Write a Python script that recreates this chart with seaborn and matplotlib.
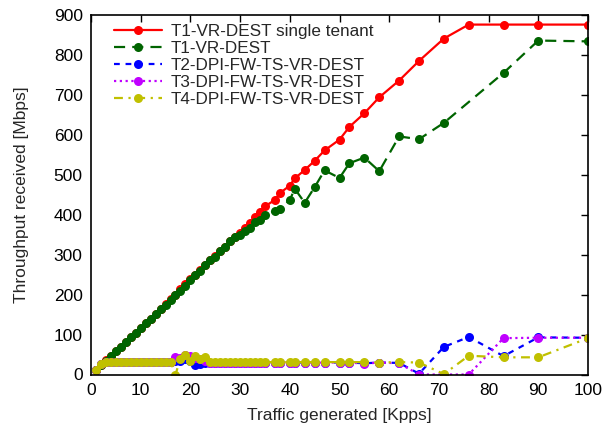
import matplotlib
matplotlib.use("Agg")
import matplotlib.pyplot as plt
import seaborn as sns
import pandas as pd

# Offered load (Kpps) for the single-tenant run and the shared runs
x_single = [1, 2, 3, 4, 5, 6, 7, 8, 9, 10, 11, 12, 13, 14, 15, 16, 17, 18, 19, 20,
            21, 22, 23, 24, 25, 26, 27, 28, 29, 30, 31, 32, 33, 34, 35,
            37, 38, 40, 41, 43, 45, 47, 50, 52, 55, 58, 62, 66, 71, 76, 83, 90, 100]
x_t1 = [1, 2, 3, 4, 5, 6, 7, 8, 9, 10, 11, 12, 13, 14, 15, 16, 17, 18, 19, 20,
        21, 22, 23, 24, 25, 26, 27, 28, 29, 30, 31, 32, 33, 34, 35,
        37, 38, 40, 41, 43, 45, 47, 50, 52, 55, 58, 62, 66, 71, 83, 90, 100]
x_chain = x_single

# Received throughput (Mbps)
t1_single = [12, 24, 36, 47, 59, 70, 82, 94, 105, 117, 129, 140, 152, 164, 176, 188, 200, 214, 227, 238,
             250, 262, 274, 286, 297, 309, 320, 334, 345, 355, 367, 380, 394, 408, 421,
             437, 454, 473, 491, 512, 535, 561, 588, 620, 654, 694, 736, 785, 841, 876, 876, 876, 876]
t1_shared = [12, 24, 35, 47, 59, 70, 82, 93, 105, 117, 128, 140, 152, 163, 175, 187, 199, 210, 221, 236,
             249, 260, 273, 286, 295, 309, 318, 333, 343, 350, 360, 368, 382, 387, 399,
             410, 415, 437, 465, 430, 469, 511, 492, 529, 543, 509, 596, 589, 630, 755, 836, 834]
t2_chain = [12, 26, 31, 32, 32, 32, 32, 32, 32, 32, 32, 32, 32, 32, 32, 32, 33, 35, 38, 33,
            25, 27, 30, 30, 30, 30, 30, 30, 30, 30, 30, 30, 30, 30, 30,
            30, 30, 30, 30, 30, 29, 30, 30, 30, 28, 30, 29, 2, 69, 94, 46, 93, 92]
t3_chain = [12, 26, 31, 32, 32, 32, 32, 32, 32, 32, 32, 32, 32, 32, 32, 32, 45, 42, 48, 46,
            42, 40, 35, 30, 30, 30, 30, 30, 30, 30, 30, 30, 30, 30, 30,
            30, 30, 30, 30, 30, 29, 30, 30, 30, 27, 30, 28, 0, 0, 0, 91, 92, 92]
t4_chain = [12, 26, 31, 32, 32, 32, 32, 32, 32, 32, 32, 32, 32, 32, 32, 32, 0, 40, 49, 35,
            46, 38, 45, 31, 31, 31, 31, 31, 31, 31, 31, 31, 31, 31, 31,
            31, 31, 31, 31, 31, 31, 31, 31, 31, 31, 30, 31, 30, 1, 47, 43, 43, 91]

series = [
    ("T1-VR-DEST single tenant", x_single, t1_single, "#ff0000", "-"),
    ("T1-VR-DEST", x_t1, t1_shared, "#006400", (0, (5, 3.2))),
    ("T2-DPI-FW-TS-VR-DEST", x_chain, t2_chain, "#0000ff", (0, (2.6, 2.6))),
    ("T3-DPI-FW-TS-VR-DEST", x_chain, t3_chain, "#c000ff", (0, (1.0, 1.6))),
    ("T4-DPI-FW-TS-VR-DEST", x_chain, t4_chain, "#c0c000", (0, (4, 2.5, 1, 2.5))),
]

sns.set_style("white")
plt.rcParams["font.family"] = ["Liberation Sans", "DejaVu Sans"]
plt.rcParams["font.size"] = 12

fig = plt.figure(figsize=(6.05, 4.30), dpi=100)
ax = fig.add_axes([91 / 605, 1 - 374.5 / 430, (588 - 91) / 605, (374.5 - 15) / 430])

for name, xs, ys, color, ls in series:
    df = pd.DataFrame({"x": xs, "y": ys})
    sns.lineplot(data=df, x="x", y="y", ax=ax, color=color, linestyle=ls,
                 linewidth=1.6, marker="o", markersize=6.5, markeredgewidth=0,
                 label=name, errorbar=None, estimator=None, sort=False)

ax.set_xlim(0, 100)
ax.set_ylim(0, 900)
ax.set_xticks(range(0, 101, 10))
ax.set_yticks(range(0, 901, 100))
ax.tick_params(direction="in", top=True, right=True, length=5, width=1,
               labelsize=12.5, pad=6, colors="black")
for sp in ax.spines.values():
    sp.set_visible(True)
    sp.set_color("black")
    sp.set_linewidth(1.2)

ax.set_xlabel("Traffic generated [Kpps]", fontsize=12.5, labelpad=7)
ax.set_ylabel("Throughput received [Mbps]", fontsize=12.5, labelpad=18)

ax.legend(loc="upper left", bbox_to_anchor=(0.04, 0.985), frameon=False,
          handlelength=2.8, handletextpad=0.5, labelspacing=0.12,
          borderaxespad=0, borderpad=0.2, fontsize=12.3)

fig.savefig("out.png", dpi=100)
